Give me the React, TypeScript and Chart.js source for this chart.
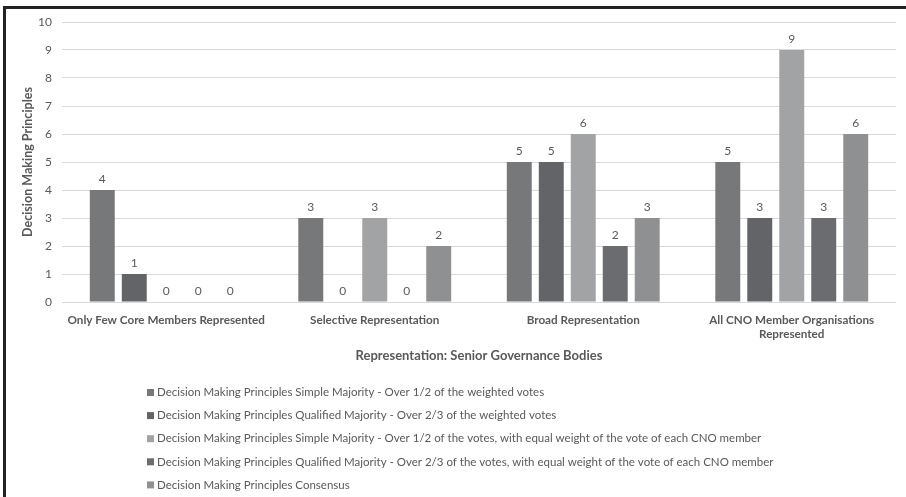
import React, { useEffect, useRef } from "react";
import { Chart, registerables } from "chart.js";

Chart.register(...registerables);

const categories: (string | string[])[] = [
  "Only Few Core Members Represented",
  "Selective Representation",
  "Broad Representation",
  ["All CNO Member Organisations", "Represented"],
];

const seriesNames = [
  "Decision Making Principles Simple Majority - Over 1/2 of the weighted votes",
  "Decision Making Principles Qualified Majority - Over 2/3 of the weighted votes",
  "Decision Making Principles Simple Majority - Over 1/2 of the votes, with equal weight of the vote of each CNO member",
  "Decision Making Principles Qualified Majority - Over 2/3 of the votes, with equal weight of the vote of each CNO member",
  "Decision Making Principles Consensus",
];

const simpleWeighted = [4, 3, 5, 5];
const qualifiedWeighted = [1, 0, 5, 3];
const simpleEqual = [0, 3, 6, 9];
const qualifiedEqual = [0, 0, 2, 3];
const consensus = [0, 2, 3, 6];

const seriesValues = [simpleWeighted, qualifiedWeighted, simpleEqual, qualifiedEqual, consensus];
const seriesColors = ["#77787a", "#636467", "#a2a3a5", "#6b6c6f", "#8f9092"];

const yTicks = [0, 1, 2, 3, 4, 5, 6, 7, 8, 9, 10];

const FONT = "Lato, 'Open Sans', sans-serif";
const TEXT = "#595959";

const valueLabels = {
  id: "valueLabels",
  afterDatasetsDraw(chart: any) {
    const ctx = chart.ctx;
    ctx.save();
    ctx.font = `12px ${FONT}`;
    ctx.fillStyle = TEXT;
    ctx.textAlign = "center";
    ctx.textBaseline = "bottom";
    chart.data.datasets.forEach((ds: any, i: number) => {
      const meta = chart.getDatasetMeta(i);
      meta.data.forEach((bar: any, j: number) => {
        ctx.fillText(String(ds.data[j]), bar.x, bar.y - 5);
      });
    });
    ctx.restore();
  },
};

const verticalLegend = {
  id: "verticalLegend",
  afterDraw(chart: any) {
    const ctx = chart.ctx;
    ctx.save();
    ctx.font = `11.5px ${FONT}`;
    ctx.textBaseline = "middle";
    ctx.textAlign = "left";
    const x0 = 147;
    const yStart = 392.5;
    const step = 23.1;
    chart.data.datasets.forEach((ds: any, i: number) => {
      const y = yStart + i * step;
      ctx.fillStyle = ds.backgroundColor;
      ctx.fillRect(x0, y - 3.5, 7, 7);
      ctx.fillStyle = TEXT;
      ctx.fillText(ds.label, x0 + 10, y);
    });
    ctx.restore();
  },
};

export default function App() {
  const ref = useRef<HTMLCanvasElement>(null);

  useEffect(() => {
    if (!ref.current) return;
    const chart = new Chart(ref.current, {
      type: "bar",
      data: {
        labels: categories,
        datasets: seriesNames.map((name, i) => ({
          label: name,
          data: seriesValues[i],
          backgroundColor: seriesColors[i],
          borderWidth: 0,
          categoryPercentage: 0.767,
          barPercentage: 0.78,
        })),
      },
      options: {
        animation: false,
        responsive: false,
        maintainAspectRatio: false,
        layout: { padding: { top: 22, right: 10, left: 0, bottom: 133 } },
        plugins: {
          legend: { display: false },
          tooltip: { enabled: false },
        },
        scales: {
          x: {
            grid: { display: false, drawTicks: false },
            border: { display: false },
            ticks: {
              color: TEXT,
              font: { family: FONT, size: 11.7, weight: "bold" },
              padding: 11,
              maxRotation: 0,
              autoSkip: false,
            },
            title: {
              display: true,
              text: "Representation: Senior Governance Bodies",
              color: TEXT,
              font: { family: FONT, size: 13, weight: "bold" },
              padding: { top: 3, bottom: 0 },
            },
            afterFit(scale: any) {
              scale.height = 62;
            },
          },
          y: {
            min: 0,
            max: 10,
            afterBuildTicks(scale: any) {
              scale.ticks = yTicks.map((v) => ({ value: v }));
            },
            grid: { color: "#d9d9d9", lineWidth: 1, drawTicks: false },
            border: { display: false },
            ticks: {
              color: TEXT,
              font: { family: FONT, size: 12 },
              padding: 10,
            },
            title: {
              display: true,
              text: "Decision Making Principles",
              color: TEXT,
              font: { family: FONT, size: 12.5, weight: "bold" },
              padding: { top: 20, bottom: 0 },
            },
            afterFit(scale: any) {
              scale.width = 62;
            },
          },
        },
      },
      plugins: [valueLabels, verticalLegend],
    });
    return () => chart.destroy();
  }, []);

  return (
    <div style={{ position: "absolute", left: 0, top: 0, width: 906, height: 497, background: "#fff" }}>
      <canvas ref={ref} width={906} height={497} style={{ display: "block" }} />
      <div
        style={{
          position: "absolute",
          left: 3,
          top: 6,
          right: 0,
          bottom: 0,
          borderLeft: "3px solid #222",
          borderTop: "3px solid #222",
          pointerEvents: "none",
        }}
      />
    </div>
  );
}
